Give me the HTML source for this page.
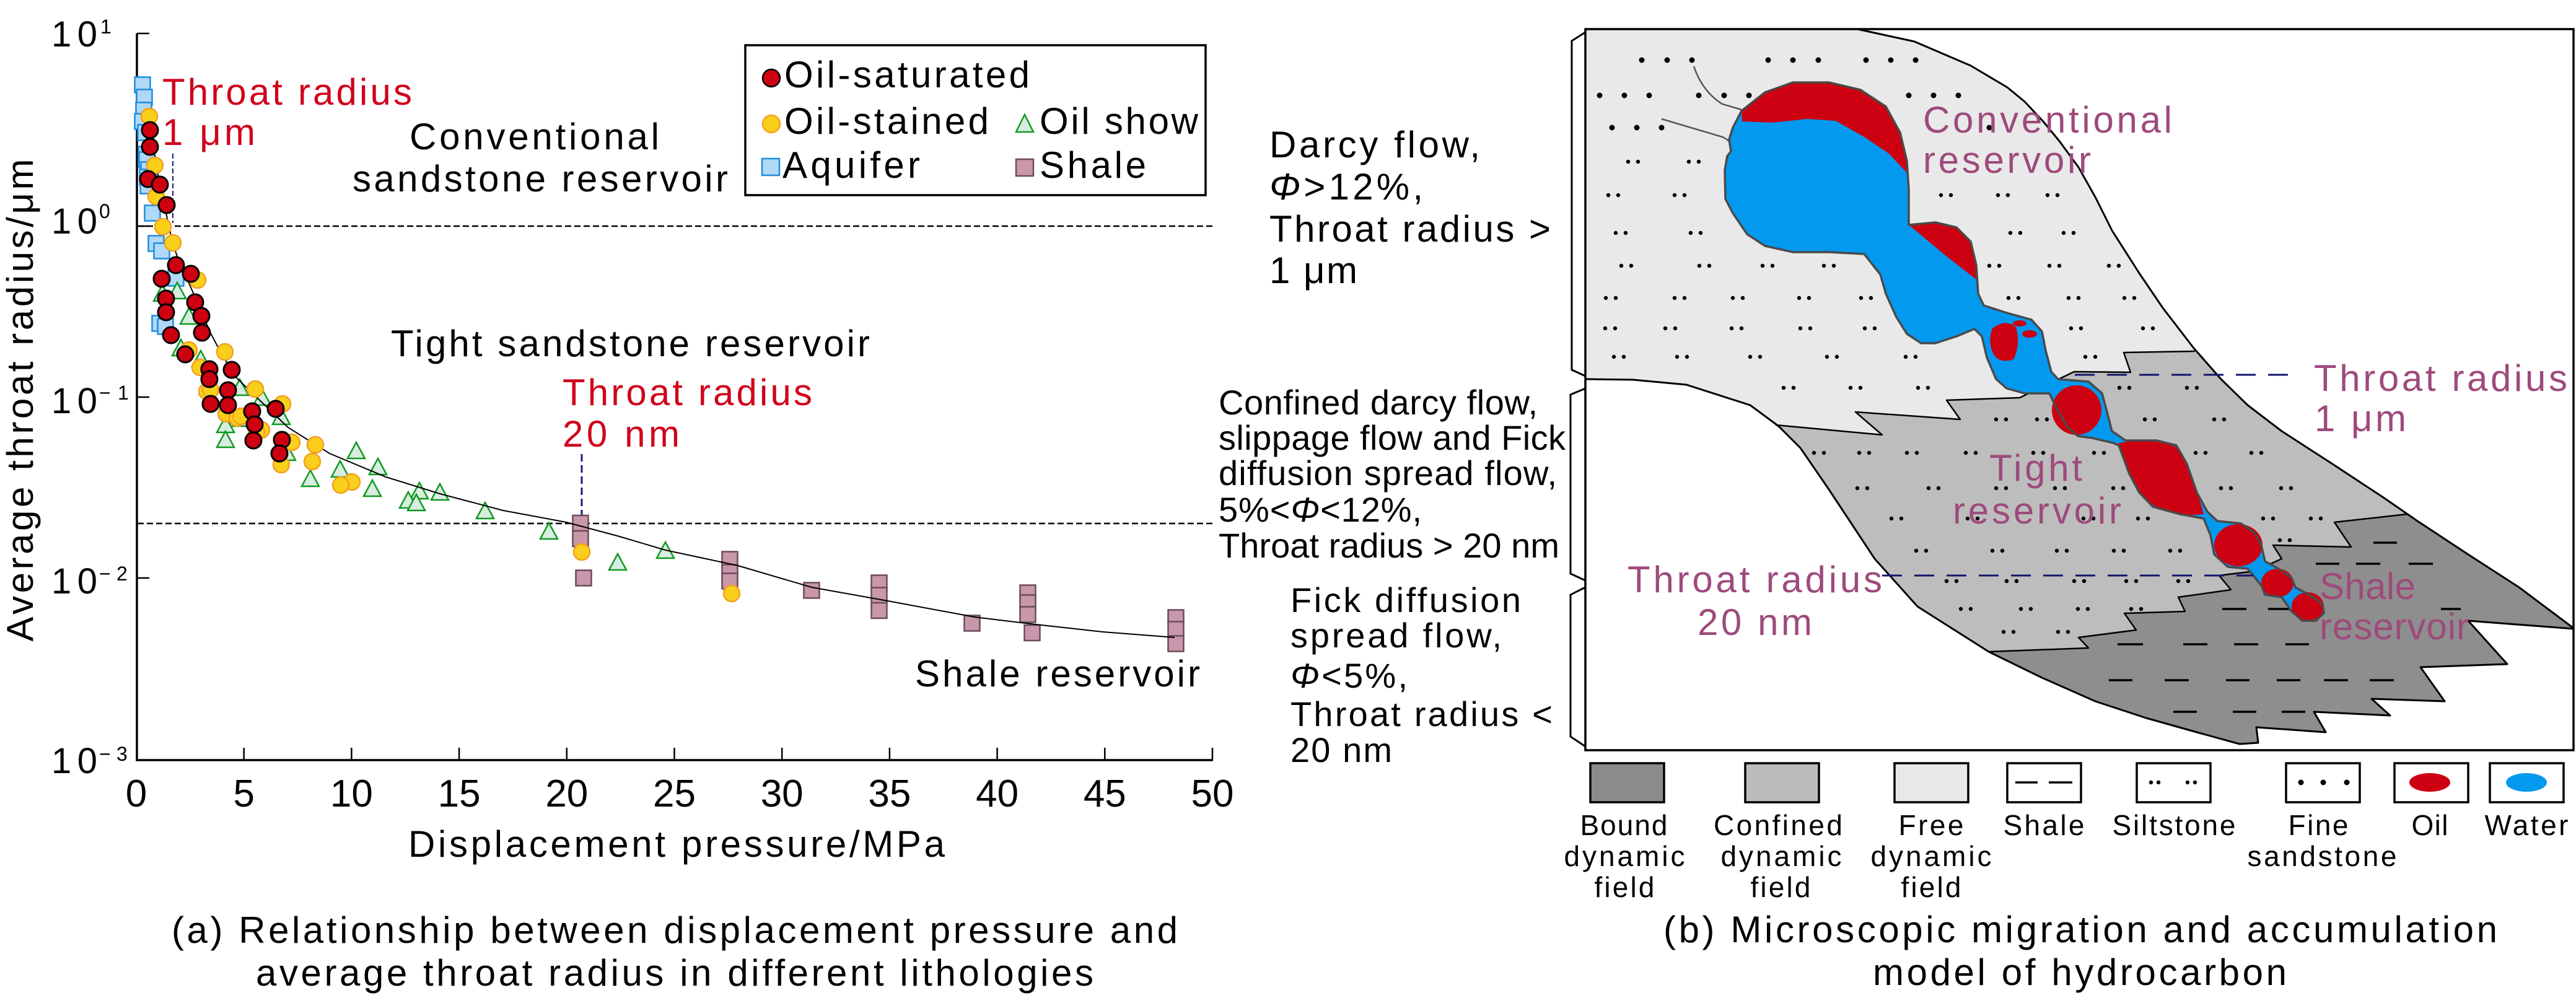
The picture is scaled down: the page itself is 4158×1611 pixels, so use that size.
<!DOCTYPE html>
<html><head><meta charset="utf-8"><style>html,body{margin:0;padding:0;background:#fff}svg{display:block}</style></head><body>
<svg xmlns="http://www.w3.org/2000/svg" width="4158" height="1611" viewBox="0 0 4158 1611" font-family="'Liberation Sans',Arial,sans-serif">
<rect width="4158" height="1611" fill="#fff"/>

<!-- ===== LEFT CHART ===== -->
<g stroke="#000" fill="none">
<line x1="222" y1="365" x2="1959" y2="365" stroke-width="2.5" stroke-dasharray="10 5"/>
<line x1="222" y1="845" x2="1959" y2="845" stroke-width="2.5" stroke-dasharray="10 5"/>
<path d="M221,54 V1227 H1958" stroke-width="3.5"/>
<path d="M221,54H241M221,365H241M221,641H241M221,933H241M393.7,1227V1207M567.4,1227V1207M741.1,1227V1207M914.8,1227V1207M1088.5,1227V1207M1262.2,1227V1207M1435.9,1227V1207M1609.6,1227V1207M1783.3,1227V1207M1957,1227V1207" stroke-width="2.5"/>
</g>
<line x1="279" y1="248" x2="279" y2="360" stroke="#1a1a7a" stroke-width="2" stroke-dasharray="8 4"/>
<line x1="939" y1="733" x2="939" y2="832" stroke="#1a1a7a" stroke-width="3" stroke-dasharray="12 6"/>

<!-- aquifer -->
<g fill="#b0d8f8" stroke="#1c8ddf" stroke-width="2.5">
<rect x="217.5" y="124.5" width="25" height="25"/><rect x="220.5" y="144.5" width="25" height="25"/><rect x="219.5" y="165.5" width="25" height="25"/><rect x="217.5" y="183.5" width="25" height="25"/><rect x="222.5" y="201.5" width="25" height="25"/><rect x="223.5" y="236.5" width="25" height="25"/><rect x="224.5" y="245.5" width="25" height="25"/><rect x="227.5" y="261.5" width="25" height="25"/><rect x="225.5" y="273.5" width="25" height="25"/><rect x="226.5" y="287.5" width="25" height="25"/><rect x="233.5" y="331.5" width="25" height="25"/><rect x="239.5" y="380.5" width="25" height="25"/><rect x="248.5" y="392.5" width="25" height="25"/><rect x="271.5" y="436.5" width="25" height="25"/><rect x="245.5" y="509.5" width="25" height="25"/><rect x="254.5" y="514.5" width="25" height="25"/>
</g>
<!-- oil show triangles -->
<g fill="#d8ece0" stroke="#0e9a20" stroke-width="2.5">
<polygon points="262,460 276,486 248,486"/><polygon points="286,456 300,482 272,482"/><polygon points="305,497 319,523 291,523"/><polygon points="292,548 306,574 278,574"/><polygon points="324,566 338,592 310,592"/><polygon points="387,612 401,638 373,638"/><polygon points="423,628 437,654 409,654"/><polygon points="454,659 468,685 440,685"/><polygon points="364,672 378,698 350,698"/><polygon points="364,696 378,722 350,722"/><polygon points="389,662 403,688 375,688"/><polygon points="463,717 477,743 449,743"/><polygon points="501,759 515,785 487,785"/><polygon points="575,714 589,740 561,740"/><polygon points="549,744 563,770 535,770"/><polygon points="610,740 624,766 596,766"/><polygon points="601,775 615,801 587,801"/><polygon points="677,779 691,805 663,805"/><polygon points="659,794 673,820 645,820"/><polygon points="672,798 686,824 658,824"/><polygon points="710,781 724,807 696,807"/><polygon points="783,811 797,837 769,837"/><polygon points="886,844 900,870 872,870"/><polygon points="997,894 1011,920 983,920"/><polygon points="1074,875 1088,901 1060,901"/>
</g>
<!-- shale squares -->
<g fill="#c897a9" stroke="#6b4c5c" stroke-width="2.5">
<rect x="924.5" y="832" width="25" height="25"/><rect x="924.5" y="857" width="25" height="25"/><rect x="929.5" y="920.5" width="25" height="25"/><rect x="1165.5" y="890.5" width="25" height="25"/><rect x="1165.5" y="911.5" width="25" height="25"/><rect x="1165.5" y="925.5" width="25" height="25"/><rect x="1297.5" y="940.5" width="25" height="25"/><rect x="1406.5" y="928.5" width="25" height="25"/><rect x="1406.5" y="948.5" width="25" height="25"/><rect x="1406.5" y="973" width="25" height="25"/><rect x="1556.5" y="993.5" width="25" height="25"/><rect x="1646.5" y="944.5" width="25" height="25"/><rect x="1646.5" y="960.5" width="25" height="25"/><rect x="1646.5" y="979.5" width="25" height="25"/><rect x="1653.5" y="1009" width="25" height="25"/><rect x="1885.5" y="984.5" width="25" height="25"/><rect x="1885.5" y="1003.5" width="25" height="25"/><rect x="1885.5" y="1026.5" width="25" height="25"/>
</g>
<!-- fit curve -->
<polyline fill="none" stroke="#000" stroke-width="2" points="250,250 258,300 268,344 279,393 288,420 300,446 320,491 340,538 358,572 382,610 418,645 465,690 532,732 623,770 710,797 812,824 914,843 1000,866 1074,888 1191,913 1310,948 1433,970 1573,996 1672,1008 1780,1020 1896,1029"/>
<!-- oil-stained -->
<g fill="#f9cf1c" stroke="#f4a020" stroke-width="2.5">
<circle cx="241" cy="188" r="13"/><circle cx="250" cy="267" r="13"/><circle cx="252" cy="317" r="13"/><circle cx="263" cy="366" r="13"/><circle cx="279" cy="392" r="13"/><circle cx="319" cy="452" r="13"/><circle cx="305" cy="565" r="13"/><circle cx="363" cy="568" r="13"/><circle cx="323" cy="593" r="13"/><circle cx="337" cy="596" r="13"/><circle cx="334" cy="632" r="13"/><circle cx="340" cy="629" r="13"/><circle cx="412" cy="628" r="13"/><circle cx="456" cy="652" r="13"/><circle cx="365" cy="668" r="13"/><circle cx="383" cy="675" r="13"/><circle cx="389" cy="672" r="13"/><circle cx="422" cy="694" r="13"/><circle cx="414" cy="698" r="13"/><circle cx="471" cy="714" r="13"/><circle cx="509" cy="718" r="13"/><circle cx="504" cy="745" r="13"/><circle cx="454" cy="750" r="13"/><circle cx="568" cy="778" r="13"/><circle cx="550" cy="783" r="13"/><circle cx="939" cy="891" r="13"/><circle cx="1181" cy="958" r="13"/>
</g>
<!-- oil-saturated -->
<g fill="#cc0010" stroke="#000" stroke-width="3">
<circle cx="242" cy="210" r="13"/><circle cx="242" cy="237" r="13"/><circle cx="239" cy="289" r="13"/><circle cx="258" cy="298" r="13"/><circle cx="269" cy="331" r="13"/><circle cx="284" cy="428" r="13"/><circle cx="308" cy="442" r="13"/><circle cx="261" cy="450" r="13"/><circle cx="268" cy="482" r="13"/><circle cx="315" cy="488" r="13"/><circle cx="268" cy="504" r="13"/><circle cx="325" cy="510" r="13"/><circle cx="326" cy="537" r="13"/><circle cx="276" cy="541" r="13"/><circle cx="299" cy="572" r="13"/><circle cx="338" cy="596" r="13"/><circle cx="338" cy="612" r="13"/><circle cx="374" cy="597" r="13"/><circle cx="368" cy="630" r="13"/><circle cx="340" cy="652" r="13"/><circle cx="368" cy="654" r="13"/><circle cx="407" cy="664" r="13"/><circle cx="445" cy="660" r="13"/><circle cx="411" cy="685" r="13"/><circle cx="409" cy="711" r="13"/><circle cx="455" cy="710" r="13"/><circle cx="451" cy="732" r="13"/>
</g>

<!-- legend -->
<rect x="1203" y="73" width="743" height="242" fill="#fff" stroke="#000" stroke-width="3.5"/>
<circle cx="1245" cy="126" r="14" fill="#cc0010" stroke="#000" stroke-width="2.5"/>
<circle cx="1245" cy="200" r="14" fill="#f9cf1c" stroke="#f4a020" stroke-width="2.5"/>
<rect x="1230" y="256" width="28" height="27" fill="#b0d8f8" stroke="#1c8ddf" stroke-width="2.5"/>
<polygon points="1654,185 1668,213 1640,213" fill="#d8ece0" stroke="#0e9a20" stroke-width="2.5"/>
<rect x="1640" y="257" width="28" height="27" fill="#c897a9" stroke="#6b4c5c" stroke-width="2.5"/>
<g font-size="60" fill="#000">
<text x="1266" y="141" textLength="396" lengthAdjust="spacing">Oil-saturated</text>
<text x="1266" y="216" textLength="330" lengthAdjust="spacing">Oil-stained</text>
<text x="1678" y="216" textLength="256" lengthAdjust="spacing">Oil show</text>
<text x="1263" y="287" textLength="222" lengthAdjust="spacing">Aquifer</text>
<text x="1678" y="287" textLength="172" lengthAdjust="spacing">Shale</text>
</g>

<!-- left chart text -->
<g font-size="60" fill="#d0021b">
<text x="262" y="169" textLength="403" lengthAdjust="spacing">Throat radius</text>
<text x="262" y="234" textLength="150" lengthAdjust="spacing">1 μm</text>
<text x="908" y="654" textLength="403" lengthAdjust="spacing">Throat radius</text>
<text x="908" y="721" textLength="189" lengthAdjust="spacing">20 nm</text>
</g>
<g font-size="60" fill="#000">
<text x="661" y="241" textLength="403" lengthAdjust="spacing">Conventional</text>
<text x="569" y="309" textLength="606" lengthAdjust="spacing">sandstone reservoir</text>
<text x="631" y="575" textLength="773" lengthAdjust="spacing">Tight sandstone reservoir</text>
<text x="1477" y="1108" textLength="460" lengthAdjust="spacing">Shale reservoir</text>
<text transform="translate(53,646) rotate(-90)" text-anchor="middle" textLength="779" lengthAdjust="spacing">Average throat radius/μm</text>
<text x="1092" y="1383" text-anchor="middle" textLength="866" lengthAdjust="spacing">Displacement pressure/MPa</text>
<text x="1089" y="1522" text-anchor="middle" textLength="1624" lengthAdjust="spacing">(a) Relationship between displacement pressure and</text>
<text x="1089" y="1591" text-anchor="middle" textLength="1352" lengthAdjust="spacing">average throat radius in different lithologies</text>
</g>
<!-- y tick labels -->
<g font-size="58" fill="#000">
<text x="83" y="75" textLength="74" lengthAdjust="spacing">10</text>
<text x="83" y="377" textLength="74" lengthAdjust="spacing">10</text>
<text x="83" y="667" textLength="74" lengthAdjust="spacing">10</text>
<text x="83" y="958" textLength="74" lengthAdjust="spacing">10</text>
<text x="83" y="1248" textLength="74" lengthAdjust="spacing">10</text>
</g>
<g font-size="32" fill="#000">
<text x="162" y="54">1</text>
<text x="160" y="352">0</text>
<text x="160" y="645">−</text><text x="190" y="645">1</text>
<text x="160" y="937">−</text><text x="188" y="937">2</text>
<text x="160" y="1228">−</text><text x="188" y="1228">3</text>
</g>
<!-- x tick labels -->
<g font-size="62" fill="#000" text-anchor="middle">
<text x="220" y="1302">0</text><text x="393.7" y="1302">5</text><text x="567.4" y="1302">10</text><text x="741.1" y="1302">15</text><text x="914.8" y="1302">20</text><text x="1088.5" y="1302">25</text><text x="1262.2" y="1302">30</text><text x="1435.9" y="1302">35</text><text x="1609.6" y="1302">40</text><text x="1783.3" y="1302">45</text><text x="1957" y="1302">50</text>
</g>

<!-- ===== RIGHT DIAGRAM ===== -->
<!-- band (free field) -->
<path fill="#e9e9e9" d="M2560,47 L2998,47 L3090,67 L3181,106 L3240,141 L3268,164 L3298,196 L3325,229 L3355,270 L3382,318 L3409,372 L3453,441 L3491,497 L3541,562 L3585,612 L3628,654 L3683,696 L3765,749 L3847,803 L3902,841 L3984,895 L4066,948 L4154,1013 L4154,1015 L3984,1002 L4047,1072 L3907,1077 L3946,1132 L3828,1128 L3858,1155 L3735,1149 L3754,1182 L3642,1174 L3645,1199 L3615,1201 L3546,1182 L3464,1159 L3382,1132 L3296,1094 L3210,1052 L3095,979 L3026,902 L2952,790 L2906,723 L2871,688 L2825,654 L2722,621 L2636,613 L2560,612 Z"/>
<!-- confined -->
<path fill="#bdbdbd" d="M2866,686 L3038,702 L2995,665 L3164,677 L3142,646 L3260,642 L3348,600 L3439,601 L3428,569 L3543,567 L3585,612 L3628,654 L3683,696 L3765,749 L3847,803 L3885,830 L3768,843 L3795,883 L3669,880 L3683,902 L3639,922 L3582,929 L3601,952 L3516,964 L3527,987 L3429,990 L3448,1017 L3355,1029 L3371,1046 L3210,1052 L3095,979 L3026,902 L2952,790 L2906,723 Z"/>
<!-- bound -->
<path fill="#8e8e8e" d="M3210,1052 L3371,1046 L3355,1029 L3448,1017 L3429,990 L3527,987 L3516,964 L3601,952 L3582,929 L3639,922 L3683,902 L3669,880 L3795,883 L3768,843 L3885,830 L3902,841 L3984,895 L4066,948 L4154,1013 L4154,1015 L3984,1002 L4047,1072 L3907,1077 L3946,1132 L3828,1128 L3858,1155 L3735,1149 L3754,1182 L3642,1174 L3645,1199 L3615,1201 L3546,1182 L3464,1159 L3382,1132 L3296,1094 Z"/>

<!-- fine sandstone dots -->
<path fill="none" stroke="#000" stroke-width="9" stroke-linecap="round" d="M2650,97h0M2691,97h0M2731,97h0M2854,97h0M2894,97h0M2935,97h0M3012,97h0M3052,97h0M3092,97h0M2582,154h0M2622,154h0M2662,154h0M2742,154h0M2783,154h0M2823,154h0M3081,154h0M3121,154h0M3161,154h0M2602,206h0M2642,206h0M2682,206h0M3211,206h0"/>
<!-- siltstone dot pairs -->
<path fill="none" stroke="#000" stroke-width="6.5" stroke-linecap="round" d="M2628,261h0M2644,261h0M2726,261h0M2742,261h0
M2596,315h0M2612,315h0M2703,315h0M2719,315h0M3133,315h0M3149,315h0M3225,315h0M3241,315h0M3305,315h0M3321,315h0
M2608,376h0M2624,376h0M2729,376h0M2745,376h0M3245,376h0M3261,376h0M3331,376h0M3347,376h0
M2617,429h0M2633,429h0M2743,429h0M2759,429h0M2845,429h0M2861,429h0M2944,429h0M2960,429h0M3211,429h0M3227,429h0M3308,429h0M3324,429h0M3404,429h0M3420,429h0
M2592,481h0M2608,481h0M2703,481h0M2719,481h0M2797,481h0M2813,481h0M2904,481h0M2920,481h0M3004,481h0M3020,481h0M3242,481h0M3258,481h0M3339,481h0M3355,481h0M3429,481h0M3445,481h0
M2591,530h0M2607,530h0M2688,530h0M2704,530h0M2795,530h0M2811,530h0M2906,530h0M2922,530h0M3010,530h0M3026,530h0M3343,530h0M3359,530h0M3459,530h0M3475,530h0
M2605,576h0M2621,576h0M2707,576h0M2723,576h0M2825,576h0M2841,576h0M2949,576h0M2965,576h0M3076,576h0M3092,576h0M3366,576h0M3382,576h0
M2879,626h0M2895,626h0M2987,626h0M3003,626h0M3096,626h0M3112,626h0M3421,626h0M3437,626h0M3530,626h0M3546,626h0
M3222,677h0M3238,677h0M3288,677h0M3304,677h0M3462,677h0M3478,677h0M3574,677h0M3590,677h0
M2928,731h0M2944,731h0M3001,731h0M3017,731h0M3078,731h0M3094,731h0M3173,731h0M3189,731h0M3282,731h0M3298,731h0M3380,731h0M3396,731h0M3544,731h0M3560,731h0M3634,731h0M3650,731h0
M2998,788h0M3014,788h0M3113,788h0M3129,788h0M3222,788h0M3238,788h0M3317,788h0M3333,788h0M3411,788h0M3427,788h0M3585,788h0M3601,788h0M3682,788h0M3698,788h0
M3053,837h0M3069,837h0M3176,837h0M3192,837h0M3363,837h0M3379,837h0M3451,837h0M3467,837h0M3653,837h0M3669,837h0M3730,837h0M3746,837h0
M3680,872h0M3696,872h0
M3093,889h0M3109,889h0M3216,889h0M3232,889h0M3320,889h0M3336,889h0M3412,889h0M3428,889h0M3503,889h0M3519,889h0
M3142,938h0M3158,938h0M3239,938h0M3255,938h0M3348,938h0M3364,938h0M3432,938h0M3448,938h0M3516,938h0M3532,938h0
M3165,983h0M3181,983h0M3262,983h0M3278,983h0M3354,983h0M3370,983h0M3440,983h0M3456,983h0
M3234,1020h0M3250,1020h0M3322,1020h0M3338,1020h0"/>
<!-- shale dashes -->
<path fill="none" stroke="#000" stroke-width="3.5" d="M3831,876H3869M3738,910H3776M3803,910H3842M3888,910H3927M3587,983H3626M3661,983H3699M3940,983H3972M3418,1040H3459M3524,1040H3563M3606,1040H3645M3689,1040H3727M3404,1098H3442M3494,1098H3533M3593,1098H3631M3675,1098H3713M3751,1098H3790M3825,1098H3864M3508,1149H3546M3604,1149H3642M3683,1149H3721"/>

<!-- boundary strokes -->
<g fill="none" stroke="#000" stroke-linejoin="round">
<polyline stroke-width="3" points="2998,47 3090,67 3181,106 3240,141 3268,164 3298,196 3325,229 3355,270 3382,318 3409,372 3453,441 3491,497 3541,562 3585,612 3628,654 3683,696 3765,749 3847,803 3902,841 3984,895 4066,948 4154,1014"/>
<polyline stroke-width="3" points="4154,1015 3984,1002 4047,1072 3907,1077 3946,1132 3828,1128 3858,1155 3735,1149 3754,1182 3642,1174 3645,1199 3615,1201 3546,1182 3464,1159 3382,1132 3296,1094 3210,1052 3095,979 3026,902 2952,790 2906,723 2871,688 2825,654 2722,621 2636,613 2560,612"/>
<polyline stroke-width="2.5" points="2866,686 3038,702 2995,665 3164,677 3142,646 3260,642 3348,600 3439,601 3428,569 3543,567"/>
<polyline stroke-width="2.5" points="3210,1052 3371,1046 3355,1029 3448,1017 3429,990 3527,987 3516,964 3601,952 3582,929 3639,922 3683,902 3669,880 3795,883 3768,843 3885,830"/>
</g>

<!-- thin feeder lines -->
<path fill="none" stroke="#555" stroke-width="2.5" d="M2734,107 Q2748,148 2780,168 L2811,177 M2682,192 L2780,221 Q2796,228 2794,240"/>

<!-- channel -->
<path id="ch" fill="#0399ef" d="M2811,179 L2849,149 L2894,133 L2952,133 L3003,145 L3044,172 L3067,214 L3078,260 L3081,306 L3081,363 L3124,359 L3158,367 L3181,390 L3190,428 L3193,474 L3202,493 L3239,505 L3279,516 L3296,535 L3302,566 L3311,600 L3322,612 L3371,616 L3393,635 L3401,665 L3409,696 L3431,711 L3481,711 L3513,719 L3530,749 L3546,795 L3563,826 L3579,841 L3617,845 L3639,860 L3650,880 L3656,906 L3678,918 L3699,933 L3705,948 L3727,960 L3749,975 L3751,990 L3738,1002 L3716,1002 L3699,987 L3683,964 L3656,960 L3650,945 L3628,918 L3596,915 L3574,895 L3568,864 L3557,837 L3519,830 L3475,818 L3453,795 L3437,765 L3420,719 L3411,715 L3377,707 L3354,704 L3336,688 L3319,658 L3308,635 L3268,635 L3239,627 L3222,612 L3207,577 L3199,543 L3187,531 L3158,543 L3124,554 L3101,554 L3078,539 L3061,512 L3044,474 L3035,443 L3009,410 L2952,407 L2894,407 L2849,397 L2820,378 L2797,344 L2785,321 L2784,275 L2788,252 L2794,244 L2791,225 L2797,206 Z"/>
<g fill="#cc0010">
<path d="M2811,179 L2849,149 L2894,133 L2952,133 L3003,145 L3044,172 L3067,214 L3078,260 L3079,280 L3049,248 L3009,221 L2963,195 L2917,192 L2860,198 L2812,196 Z"/>
<path d="M3081,363 L3124,359 L3158,367 L3181,390 L3190,428 L3191,452 L3141,413 Z"/>
<path d="M3216,530 Q3238,514 3254,528 Q3262,556 3250,580 Q3226,588 3217,570 Q3208,550 3216,530 Z"/>
<ellipse cx="3260" cy="522" rx="11" ry="5"/>
<ellipse cx="3276" cy="539" rx="12" ry="6"/>
<ellipse cx="3352" cy="662" rx="40" ry="40"/>
<path d="M3418,716 Q3470,703 3513,722 Q3538,760 3557,830 Q3510,836 3475,815 Q3440,790 3431,746 Z"/>
<ellipse cx="3613" cy="880" rx="39" ry="34"/>
<ellipse cx="3676" cy="941" rx="26" ry="23"/>
<ellipse cx="3725" cy="979" rx="26" ry="23"/>
</g>
<path fill="none" stroke="#4a4a4a" stroke-width="3.5" stroke-linejoin="round" d="M2811,179 L2849,149 L2894,133 L2952,133 L3003,145 L3044,172 L3067,214 L3078,260 L3081,306 L3081,363 L3124,359 L3158,367 L3181,390 L3190,428 L3193,474 L3202,493 L3239,505 L3279,516 L3296,535 L3302,566 L3311,600 L3322,612 L3371,616 L3393,635 L3401,665 L3409,696 L3431,711 L3481,711 L3513,719 L3530,749 L3546,795 L3563,826 L3579,841 L3617,845 L3639,860 L3650,880 L3656,906 L3678,918 L3699,933 L3705,948 L3727,960 L3749,975 L3751,990 L3738,1002 L3716,1002 L3699,987 L3683,964 L3656,960 L3650,945 L3628,918 L3596,915 L3574,895 L3568,864 L3557,837 L3519,830 L3475,818 L3453,795 L3437,765 L3420,719 L3411,715 L3377,707 L3354,704 L3336,688 L3319,658 L3308,635 L3268,635 L3239,627 L3222,612 L3207,577 L3199,543 L3187,531 L3158,543 L3124,554 L3101,554 L3078,539 L3061,512 L3044,474 L3035,443 L3009,410 L2952,407 L2894,407 L2849,397 L2820,378 L2797,344 L2785,321 L2784,275 L2788,252 L2794,244 L2791,225 L2797,206 Z"/>

<!-- navy dashed lines -->
<line x1="3349" y1="605" x2="3708" y2="605" stroke="#14146e" stroke-width="3" stroke-dasharray="32 20"/>
<line x1="3038" y1="929" x2="3637" y2="929" stroke="#14146e" stroke-width="3" stroke-dasharray="32 20"/>

<!-- frame -->
<rect x="2559" y="47" width="1595" height="1164" fill="none" stroke="#000" stroke-width="3.5"/>
<!-- braces -->
<g fill="none" stroke="#000" stroke-width="3">
<polyline points="2559,52 2537,66 2537,597 2559,607"/>
<polyline points="2559,627 2535,637 2535,926 2559,937"/>
<polyline points="2559,948 2535,960 2535,1189 2559,1205"/>
</g>

<!-- diagram labels -->
<g font-size="60" fill="#9e4a7c">
<text x="3104" y="214" textLength="402" lengthAdjust="spacing">Conventional</text>
<text x="3104" y="279" textLength="271" lengthAdjust="spacing">reservoir</text>
<text x="3211" y="776" textLength="150" lengthAdjust="spacing">Tight</text>
<text x="3152" y="845" textLength="272" lengthAdjust="spacing">reservoir</text>
<text x="2627" y="956" textLength="411" lengthAdjust="spacing">Throat radius</text>
<text x="2740" y="1025" textLength="185" lengthAdjust="spacing">20 nm</text>
<text x="3735" y="631" textLength="409" lengthAdjust="spacing">Throat radius</text>
<text x="3736" y="696" textLength="148" lengthAdjust="spacing">1 μm</text>
<text x="3744" y="967" textLength="155" lengthAdjust="spacing">Shale</text>
<text x="3744" y="1032" textLength="241" lengthAdjust="spacing">reservoir</text>
</g>

<!-- side texts -->
<g font-size="60" fill="#000">
<text x="2049" y="254" textLength="340" lengthAdjust="spacing">Darcy flow,</text>
<text x="2049" y="322" textLength="248" lengthAdjust="spacing"><tspan font-style="italic">Φ</tspan>&gt;12%,</text>
<text x="2049" y="390" textLength="454" lengthAdjust="spacing">Throat radius &gt;</text>
<text x="2049" y="457" textLength="142" lengthAdjust="spacing">1 μm</text>
</g>
<g font-size="56" fill="#000">
<text x="1967" y="669" textLength="515" lengthAdjust="spacing">Confined darcy flow,</text>
<text x="1967" y="726" textLength="560" lengthAdjust="spacing">slippage flow and Fick</text>
<text x="1967" y="783" textLength="546" lengthAdjust="spacing">diffusion spread flow,</text>
<text x="1967" y="842" textLength="328" lengthAdjust="spacing">5%&lt;<tspan font-style="italic">Φ</tspan>&lt;12%,</text>
<text x="1967" y="900" textLength="550" lengthAdjust="spacing">Throat radius &gt; 20 nm</text>
<text x="2083" y="988" textLength="372" lengthAdjust="spacing">Fick diffusion</text>
<text x="2083" y="1045" textLength="341" lengthAdjust="spacing">spread flow,</text>
<text x="2083" y="1110" textLength="189" lengthAdjust="spacing"><tspan font-style="italic">Φ</tspan>&lt;5%,</text>
<text x="2083" y="1172" textLength="423" lengthAdjust="spacing">Throat radius &lt;</text>
<text x="2083" y="1230" textLength="164" lengthAdjust="spacing">20 nm</text>
</g>

<!-- diagram legend -->
<g stroke="#000" stroke-width="3.5">
<rect x="2567" y="1232" width="119" height="63" fill="#8c8c8c"/>
<rect x="2817" y="1232" width="119" height="63" fill="#bcbcbc"/>
<rect x="3058" y="1232" width="119" height="63" fill="#e8e8e8"/>
<rect x="3240" y="1232" width="119" height="63" fill="#fff"/>
<rect x="3449" y="1232" width="119" height="63" fill="#fff"/>
<rect x="3690" y="1232" width="119" height="63" fill="#fff"/>
<rect x="3865" y="1232" width="119" height="63" fill="#fff"/>
<rect x="4019" y="1232" width="119" height="63" fill="#fff"/>
</g>
<path fill="none" stroke="#000" stroke-width="3.5" d="M3253,1263H3289M3307,1263H3345"/>
<path fill="none" stroke="#000" stroke-width="6.5" stroke-linecap="round" d="M3472,1263h0M3484,1263h0M3531,1263h0M3543,1263h0"/>
<path fill="none" stroke="#000" stroke-width="9" stroke-linecap="round" d="M3714,1263h0M3750,1263h0M3788,1263h0"/>
<ellipse cx="3922" cy="1263" rx="33" ry="15" fill="#cc0010"/>
<ellipse cx="4078" cy="1263" rx="33" ry="15" fill="#0399ef"/>
<g font-size="46" fill="#000" text-anchor="middle">
<text x="2621" y="1348" textLength="141" lengthAdjust="spacing">Bound</text>
<text x="2622" y="1398" textLength="195" lengthAdjust="spacing">dynamic</text>
<text x="2622" y="1448" textLength="97" lengthAdjust="spacing">field</text>
<text x="2870" y="1348" textLength="208" lengthAdjust="spacing">Confined</text>
<text x="2875" y="1398" textLength="195" lengthAdjust="spacing">dynamic</text>
<text x="2874" y="1448" textLength="97" lengthAdjust="spacing">field</text>
<text x="3117" y="1348" textLength="105" lengthAdjust="spacing">Free</text>
<text x="3117" y="1398" textLength="195" lengthAdjust="spacing">dynamic</text>
<text x="3117" y="1448" textLength="97" lengthAdjust="spacing">field</text>
<text x="3299" y="1348" textLength="131" lengthAdjust="spacing">Shale</text>
<text x="3509" y="1348" textLength="199" lengthAdjust="spacing">Siltstone</text>
<text x="3742" y="1348" textLength="97" lengthAdjust="spacing">Fine</text>
<text x="3748" y="1398" textLength="241" lengthAdjust="spacing">sandstone</text>
<text x="3922" y="1348" textLength="59" lengthAdjust="spacing">Oil</text>
<text x="4078" y="1348" textLength="135" lengthAdjust="spacing">Water</text>
</g>
<g font-size="60" fill="#000" text-anchor="middle">
<text x="3358" y="1521" textLength="1346" lengthAdjust="spacing">(b) Microscopic migration and accumulation</text>
<text x="3357" y="1590" textLength="668" lengthAdjust="spacing">model of hydrocarbon</text>
</g>
</svg>
</body></html>
